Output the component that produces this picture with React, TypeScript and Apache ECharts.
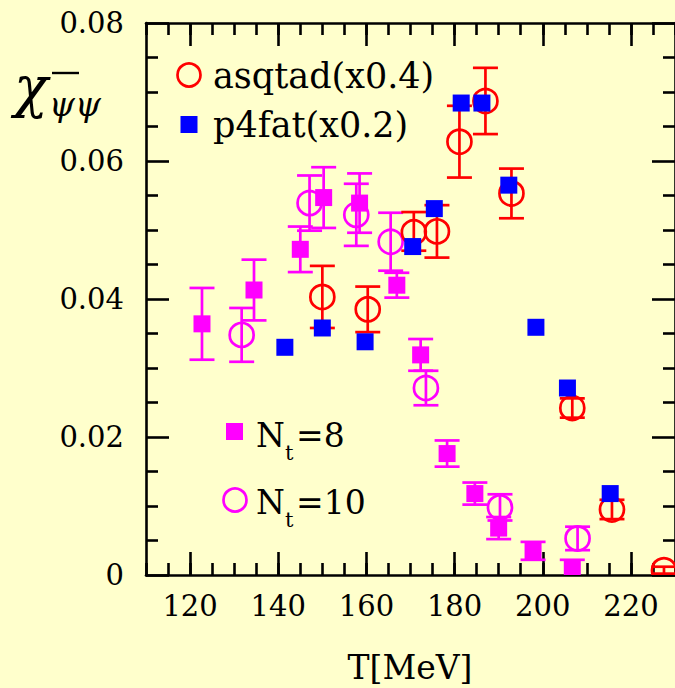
import React, { useEffect, useRef } from "react";
import * as echarts from "echarts";

// asqtad (x0.4): red open circles with error bars
const asqtadT = [150.0, 160.3, 170.75, 176.0, 181.1, 187.0, 192.9, 206.7, 215.7, 227.5];
const asqtadV = [0.0403, 0.0385, 0.0498, 0.0498, 0.0628, 0.0687, 0.0553, 0.0242, 0.0095, 0.0007];
const asqtadE = [0.0045, 0.0033, 0.0028, 0.0038, 0.0052, 0.0048, 0.0036, 0.0014, 0.0014, 0.0005];

// p4fat (x0.2): blue filled squares
const p4fatT = [141.5, 150.0, 159.7, 170.5, 175.4, 181.5, 186.2, 192.3, 198.45, 205.6, 215.3];
const p4fatV = [0.033, 0.0358, 0.0338, 0.0476, 0.0531, 0.0684, 0.0684, 0.0565, 0.0359, 0.0271, 0.0118];

// Nt=8: magenta filled squares with error bars
const nt8T = [122.7, 134.5, 145.0, 150.3, 158.45, 166.9, 172.3, 178.3, 184.6, 190.0, 197.8, 206.7];
const nt8V = [0.0364, 0.0413, 0.0472, 0.0547, 0.0539, 0.042, 0.0319, 0.0176, 0.0118, 0.0068, 0.0035, 0.001];
const nt8E = [0.0052, 0.0044, 0.0033, 0.0044, 0.0043, 0.0018, 0.0023, 0.0019, 0.0016, 0.0016, 0.0013, 0.0012];

// Nt=10: magenta open circles with error bars
const nt10T = [131.7, 147.1, 157.7, 165.5, 173.5, 190.3, 207.9];
const nt10V = [0.0348, 0.0539, 0.0522, 0.0483, 0.0271, 0.0098, 0.0053];
const nt10E = [0.0039, 0.004, 0.0045, 0.0042, 0.0025, 0.0019, 0.0017];

const xMajorTicks = [120, 140, 160, 180, 200, 220];
const yTickLabels = ["0", "0.02", "0.04", "0.06", "0.08"];

const BG = "#FFFFCC";
const RED = "#FF0000";
const BLUE = "#0000FF";
const MAG = "#FF00FF";
const FONT = "DejaVu Serif";

function zip(t: number[], v: number[], e?: number[]) {
  return t.map((x, i) => (e ? [x, v[i], e[i]] : [x, v[i]]));
}

function markerSeries(name: string, data: number[][], kind: "circle" | "square", color: string, withErr: boolean) {
  return {
    type: "custom",
    name,
    data,
    clip: true,
    xAxisIndex: 0,
    yAxisIndex: 0,
    encode: { x: 0, y: 1 },
    renderItem: (params: any, api: any) => {
      const x = api.value(0);
      const y = api.value(1);
      const c = api.coord([x, y]);
      const children: any[] = [];
      const ls = { stroke: color, lineWidth: 2.7 };
      if (withErr) {
        const e = api.value(2);
        const top = api.coord([x, y + e]);
        const bot = api.coord([x, y - e]);
        const hw = 12.5;
        children.push({ type: "line", shape: { x1: top[0], y1: top[1], x2: bot[0], y2: bot[1] }, style: ls });
        children.push({ type: "line", shape: { x1: top[0] - hw, y1: top[1], x2: top[0] + hw, y2: top[1] }, style: ls });
        children.push({ type: "line", shape: { x1: bot[0] - hw, y1: bot[1], x2: bot[0] + hw, y2: bot[1] }, style: ls });
      }
      if (kind === "circle") {
        children.push({ type: "circle", shape: { cx: c[0], cy: c[1], r: 12 }, style: { fill: "none", stroke: color, lineWidth: 2.7 } });
      } else {
        children.push({ type: "rect", shape: { x: c[0] - 8.5, y: c[1] - 8.5, width: 17, height: 17 }, style: { fill: color } });
      }
      return { type: "group", children };
    },
  };
}

const axisLine = { show: true, lineStyle: { color: "#000", width: 2.6 } };
const tickStyle = { color: "#000", width: 2.6 };

export default function App() {
  const ref = useRef<HTMLDivElement>(null);
  useEffect(() => {
    if (!ref.current) return;
    const chart = echarts.init(ref.current, null, { renderer: "svg" });
    const xBase = { type: "value", min: 110, max: 230, splitLine: { show: false }, gridIndex: 0 };
    const xMinor = (pos: string) => ({
      ...xBase,
      position: pos,
      interval: 5,
      axisLine,
      axisTick: { show: true, inside: true, length: 12, lineStyle: tickStyle },
      axisLabel: { show: false },
    });
    const xMajor = (pos: string, labels: boolean) => ({
      ...xBase,
      position: pos,
      axisLine: { show: false },
      axisTick: { show: true, inside: true, length: 23, lineStyle: tickStyle, customValues: xMajorTicks },
      axisLabel: labels
        ? { show: true, customValues: xMajorTicks, fontFamily: FONT, fontSize: 29, color: "#000", margin: 16, formatter: (v: number) => String(v) }
        : { show: false },
    });
    const yAx = (pos: string, labels: boolean) => ({
      type: "value",
      position: pos,
      min: 0,
      max: 0.08,
      interval: 0.02,
      splitLine: { show: false },
      axisLine,
      axisTick: { show: true, inside: true, length: 23, lineStyle: tickStyle },
      minorTick: { show: true, splitNumber: 4, length: 12, lineStyle: tickStyle },
      axisLabel: labels
        ? {
            show: true,
            fontFamily: FONT,
            fontSize: 29,
            color: "#000",
            margin: 22,
            formatter: (v: number) => yTickLabels[Math.round(v / 0.02)],
          }
        : { show: false },
    });

    const legendText = (x: number, y: number, text: string, size = 35) => ({
      type: "text",
      x,
      y,
      style: { text, fill: "#000", font: `${size}px "${FONT}"`, textAlign: "left", textVerticalAlign: "middle" },
    });

    chart.setOption({
      animation: false,
      backgroundColor: BG,
      grid: { left: 146, top: 23, width: 531, height: 552, containLabel: false },
      xAxis: [xMinor("bottom"), xMajor("bottom", true), xMinor("top"), xMajor("top", false)],
      yAxis: [yAx("left", true), yAx("right", false)],
      series: [
        markerSeries("Nt=10", zip(nt10T, nt10V, nt10E), "circle", MAG, true),
        markerSeries("Nt=8", zip(nt8T, nt8V, nt8E), "square", MAG, true),
        markerSeries("asqtad(x0.4)", zip(asqtadT, asqtadV, asqtadE), "circle", RED, true),
        markerSeries("p4fat(x0.2)", zip(p4fatT, p4fatV), "square", BLUE, false),
      ],
      graphic: [
        // y axis label
        { type: "text", x: 31, y: 86, style: { text: "χ", fill: "#000", font: `italic 56px "${FONT}"`, textAlign: "center", textVerticalAlign: "middle" } },
        { type: "text", x: 49, y: 104, style: { text: "ψψ", fill: "#000", font: `italic 33px "${FONT}"`, textAlign: "left", textVerticalAlign: "middle" } },
        { type: "line", shape: { x1: 52, y1: 73, x2: 79, y2: 73 }, style: { stroke: "#000", lineWidth: 2.4 } },
        // x axis name
        { type: "text", x: 410, y: 667, style: { text: "T[MeV]", fill: "#000", font: `33px "${FONT}"`, textAlign: "center", textVerticalAlign: "middle" } },
        // legend top
        { type: "circle", shape: { cx: 189, cy: 75, r: 11.5 }, style: { fill: "none", stroke: RED, lineWidth: 2.7 } },
        legendText(213, 76, "asqtad(x0.4)"),
        { type: "rect", shape: { x: 180.5, y: 116, width: 17, height: 17 }, style: { fill: BLUE } },
        legendText(213, 125, "p4fat(x0.2)"),
        // legend bottom
        { type: "rect", shape: { x: 226, y: 423, width: 17, height: 17 }, style: { fill: MAG } },
        legendText(256, 435, "N", 33),
        legendText(285, 453, "t", 21),
        legendText(296, 435, "=8", 33),
        { type: "circle", shape: { cx: 235, cy: 500, r: 11.5 }, style: { fill: "none", stroke: MAG, lineWidth: 2.7 } },
        legendText(256, 502, "N", 33),
        legendText(285, 520, "t", 21),
        legendText(296, 502, "=10", 33),
      ],
    });
    return () => chart.dispose();
  }, []);
  return (
    <div
      ref={ref}
      style={{ position: "fixed", left: 0, top: 0, width: 675, height: 688, background: BG }}
    />
  );
}
